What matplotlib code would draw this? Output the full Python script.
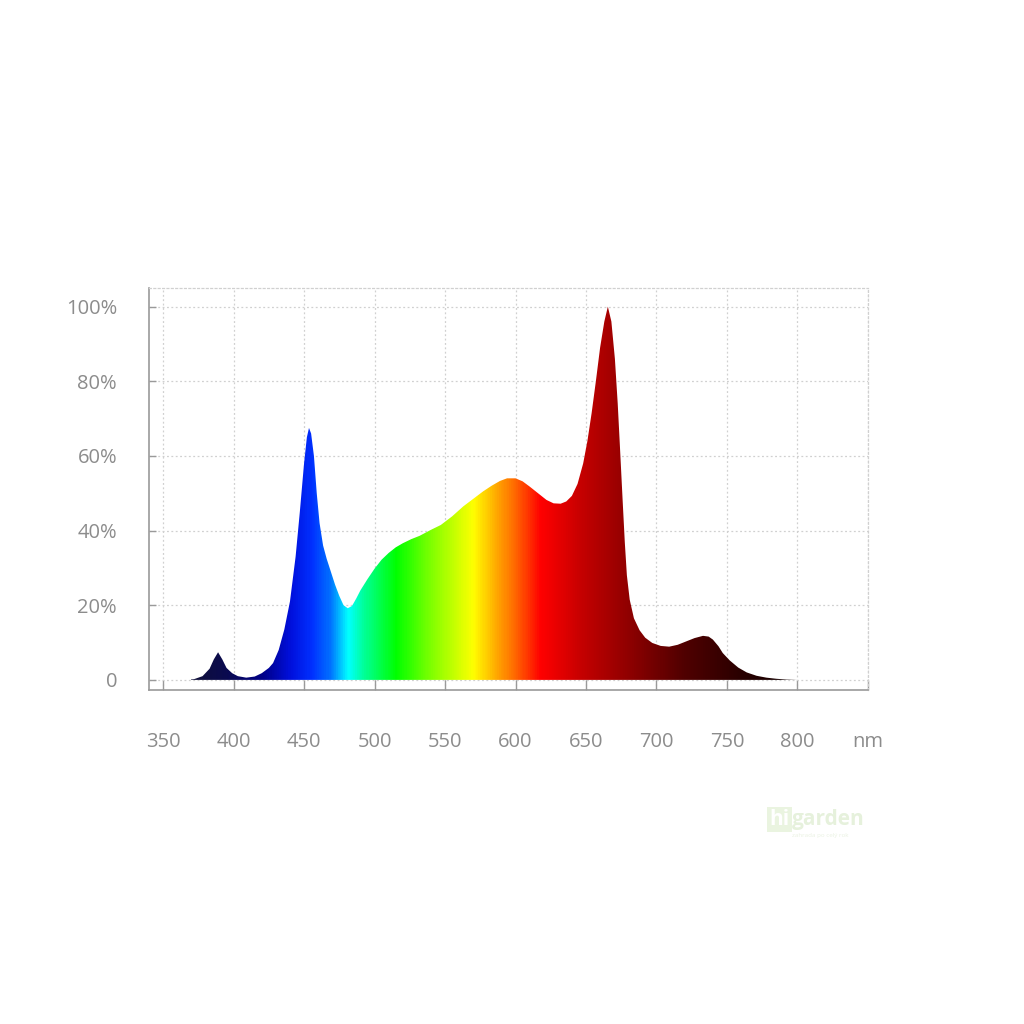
import matplotlib
matplotlib.use("Agg")
import matplotlib.pyplot as plt
import numpy as np
from matplotlib.colors import LinearSegmentedColormap

# spectrum (nm, % of peak)
wavelength = [365, 372, 378, 383, 386, 389, 392, 395, 399, 403, 409, 415, 420, 425,
              428, 432, 436, 440, 444, 447, 450, 452, 453.5, 455, 457, 459, 461, 463.5,
              466, 469, 472, 475, 478, 481, 484, 487, 490, 495, 500, 505, 510, 515,
              520, 526, 532, 540, 547, 555, 563, 570, 577, 583, 589, 594, 600, 605,
              610, 616, 622, 627, 632, 636, 640, 644, 648, 651, 654, 657, 660, 663,
              665.5, 668, 670.5, 672.5, 674, 676, 677.5, 679, 681, 684, 688, 692,
              697, 703, 709, 715, 721, 727, 733, 737, 740, 744, 747, 752, 758, 764,
              771, 778, 785, 792, 800]
intensity = [0, 0.2, 1.0, 3.0, 5.5, 7.4, 5.5, 3.2, 1.8, 1.0, 0.6, 0.9, 1.8, 3.2,
             4.5, 8, 13.5, 21, 33, 45, 58, 65, 67.5, 66, 60, 50, 42, 36,
             32.5, 29, 25.5, 22.5, 20, 19.2, 19.8, 21.8, 24, 27, 29.8, 32.2, 34, 35.5,
             36.6, 37.7, 38.6, 40.2, 41.5, 43.8, 46.5, 48.5, 50.5, 52, 53.3, 54, 54, 53.2,
             51.8, 50, 48.2, 47.3, 47.2, 47.8, 49.3, 52.5, 58, 64, 71.5, 80, 89, 96,
             100, 96, 86, 74, 63, 48, 37, 28, 21.5, 16.5, 13.3, 11.3,
             9.9, 9.1, 8.9, 9.4, 10.3, 11.2, 11.8, 11.6, 10.8, 9.0, 7.2, 5.2, 3.3, 2.0,
             1.1, 0.6, 0.3, 0.1, 0]

x_ticks = [350, 400, 450, 500, 550, 600, 650, 700, 750, 800, 850]
x_labels = ["350", "400", "450", "500", "550", "600", "650", "700", "750", "800", "nm"]
y_ticks = [0, 20, 40, 60, 80, 100]
y_labels = ["0", "20%", "40%", "60%", "80%", "100%"]

# colour of the light at each wavelength
color_stops = [(370, "#10103a"), (395, "#0a0a50"), (420, "#000088"), (440, "#0010dd"),
               (455, "#0030ff"), (468, "#0070ff"), (481, "#00ffff"), (492, "#00ff99"),
               (515, "#00ff00"), (540, "#80ff00"), (570, "#ffff00"), (585, "#ffb000"),
               (600, "#ff6600"), (618, "#ff0000"), (650, "#c00000"), (680, "#900000"),
               (720, "#500000"), (760, "#2a0000"), (800, "#100000")]


def main():
    plt.rcParams["font.family"] = ["Open Sans", "DejaVu Sans"]
    fig = plt.figure(figsize=(10.24, 10.24), dpi=100)
    ax = fig.add_axes([0.1455, 0.3262, 0.7021, 0.3926])

    lo, hi = color_stops[0][0], color_stops[-1][0]
    cmap = LinearSegmentedColormap.from_list(
        "spectrum", [((w - lo) / (hi - lo), c) for w, c in color_stops])

    poly = ax.fill_between(wavelength, intensity, 0, facecolor="none", edgecolor="none")
    grad = np.linspace(0, 1, 800).reshape(1, -1)
    im = ax.imshow(grad, cmap=cmap, extent=[lo, hi, 0, 101], aspect="auto",
                   origin="lower", zorder=2, interpolation="bilinear")
    im.set_clip_path(poly.get_paths()[0], transform=ax.transData)

    ax.set_xlim(340, 850)
    ax.set_ylim(-2.7, 105)
    ax.set_xticks(x_ticks)
    ax.set_xticklabels(x_labels)
    ax.set_yticks(y_ticks)
    ax.set_yticklabels(y_labels)

    ax.grid(True, color="#d0d0d0", linestyle=(0, (1.5, 2)), linewidth=0.9, zorder=0)
    ax.set_axisbelow(True)

    for side in ["left", "bottom"]:
        ax.spines[side].set_color("#9a9a9a")
        ax.spines[side].set_linewidth(1.2)
    for side in ["top", "right"]:
        ax.spines[side].set_color("#d0d0d0")
        ax.spines[side].set_linestyle((0, (1.5, 2)))
        ax.spines[side].set_linewidth(0.9)

    ax.tick_params(axis="x", direction="in", length=7, width=1, color="#9a9a9a",
                   pad=30, labelsize=14.5, labelcolor="#8c8c8c")
    ax.tick_params(axis="y", direction="in", length=5, width=1, color="#9a9a9a",
                   pad=23, labelsize=14.5, labelcolor="#8c8c8c")

    # faint watermark
    fig.text(0.7515, 0.194, "hi", fontsize=15, fontweight="bold", color="white",
             bbox=dict(boxstyle="square,pad=0.1", facecolor="#eaf4e0", edgecolor="none"))
    fig.text(0.7735, 0.194, "garden", fontsize=15, fontweight="bold", color="#e6f1dc")
    fig.text(0.7735, 0.183, "zahrada po celý rok", fontsize=4.5, color="#eaf2e2")

    fig.savefig("out.png", dpi=100)


if __name__ == "__main__":
    main()
